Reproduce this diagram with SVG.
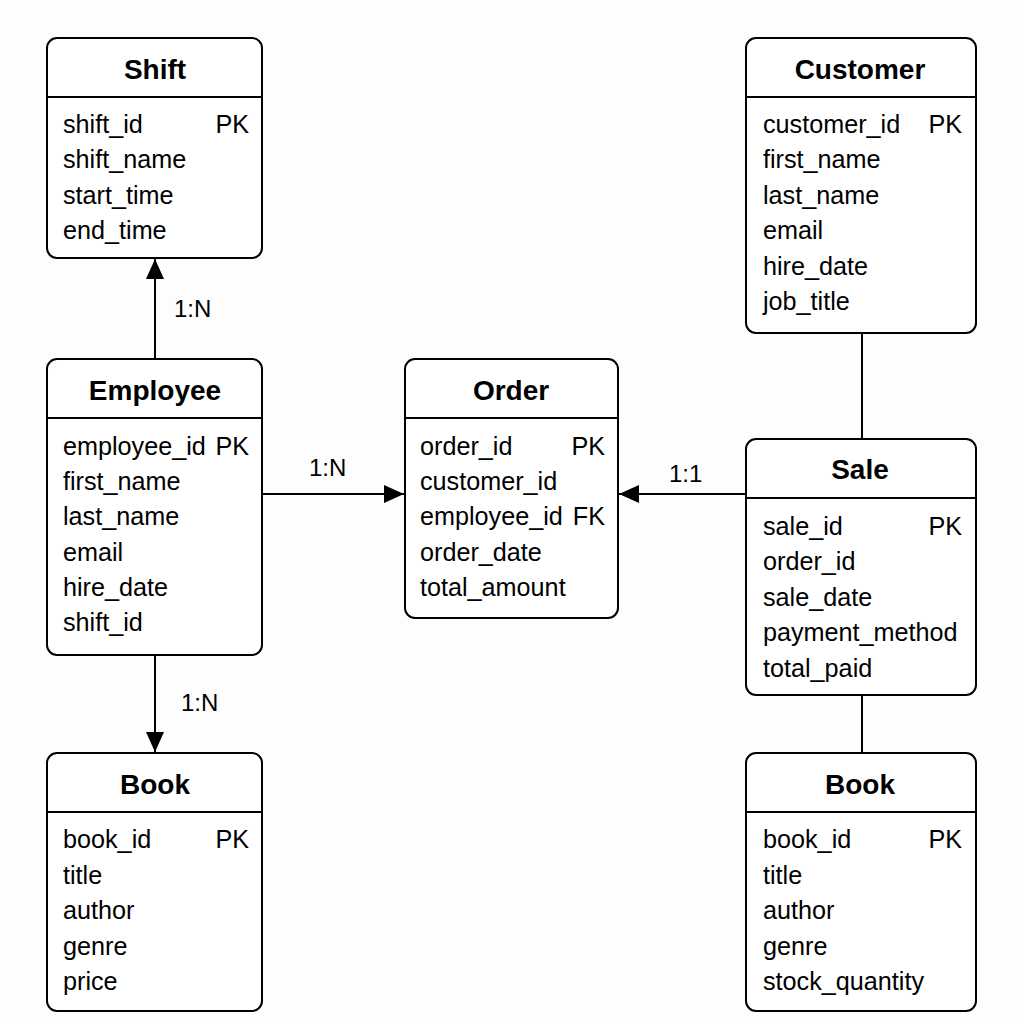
<svg xmlns="http://www.w3.org/2000/svg" width="1024" height="1024" viewBox="0 0 1024 1024">
<style>
.box{fill:#fff;stroke:#000;stroke-width:2}
.sep{stroke:#000;stroke-width:2}
.title{font-family:"Liberation Sans",Arial,sans-serif;font-size:28px;font-weight:bold;fill:#000;text-anchor:middle}
.row{font-family:"Liberation Sans",Arial,sans-serif;font-size:25.2px;fill:#000}
.key{font-family:"Liberation Sans",Arial,sans-serif;font-size:25.2px;fill:#000;text-anchor:end}
.lbl{font-family:"Liberation Sans",Arial,sans-serif;font-size:24px;fill:#000}
.con{stroke:#000;stroke-width:2;fill:none}
</style>
<defs>
<marker id="arr" viewBox="0 0 20 18" refX="20" refY="9" markerWidth="20" markerHeight="18" markerUnits="userSpaceOnUse" orient="auto">
<path d="M0,0 L20,9 L0,18 Z" fill="#000"/>
</marker>
</defs>
<rect width="1024" height="1024" fill="#fdfdfd"/>
<g id="connectors">
<line class="con" x1="155" y1="359" x2="155" y2="259" marker-end="url(#arr)"/>
<text class="lbl" x="174" y="317">1:N</text>
<line class="con" x1="262" y1="494" x2="404" y2="494" marker-end="url(#arr)"/>
<text class="lbl" x="309" y="476">1:N</text>
<line class="con" x1="746" y1="494" x2="619" y2="494" marker-end="url(#arr)"/>
<text class="lbl" x="669" y="482">1:1</text>
<line class="con" x1="155" y1="655" x2="155" y2="752" marker-end="url(#arr)"/>
<text class="lbl" x="181" y="711">1:N</text>
<line class="con" x1="862" y1="333" x2="862" y2="439"/>
<line class="con" x1="862" y1="695" x2="862" y2="753"/>
</g>
<g id="shift">
<rect class="box" x="47" y="38" width="215" height="220" rx="10"/>
<line class="sep" x1="47" y1="97" x2="262" y2="97"/>
<text class="title" x="155" y="79">Shift</text>
<text class="row" x="63" y="133">shift_id</text><text class="key" x="249" y="133">PK</text>
<text class="row" x="63" y="168">shift_name</text>
<text class="row" x="63" y="204">start_time</text>
<text class="row" x="63" y="239">end_time</text>
</g>
<g id="employee">
<rect class="box" x="47" y="359" width="215" height="296" rx="10"/>
<line class="sep" x1="47" y1="418" x2="262" y2="418"/>
<text class="title" x="155" y="400">Employee</text>
<text class="row" x="63" y="455">employee_id</text><text class="key" x="249" y="455">PK</text>
<text class="row" x="63" y="490">first_name</text>
<text class="row" x="63" y="525">last_name</text>
<text class="row" x="63" y="561">email</text>
<text class="row" x="63" y="596">hire_date</text>
<text class="row" x="63" y="631">shift_id</text>
</g>
<g id="order">
<rect class="box" x="405" y="359" width="213" height="259" rx="10"/>
<line class="sep" x1="405" y1="418" x2="618" y2="418"/>
<text class="title" x="511" y="400">Order</text>
<text class="row" x="420" y="455">order_id</text><text class="key" x="605" y="455">PK</text>
<text class="row" x="420" y="490">customer_id</text>
<text class="row" x="420" y="525">employee_id</text><text class="key" x="605" y="525">FK</text>
<text class="row" x="420" y="561">order_date</text>
<text class="row" x="420" y="596">total_amount</text>
</g>
<g id="customer">
<rect class="box" x="746" y="38" width="230" height="295" rx="10"/>
<line class="sep" x1="746" y1="97" x2="976" y2="97"/>
<text class="title" x="860" y="79">Customer</text>
<text class="row" x="763" y="133">customer_id</text><text class="key" x="962" y="133">PK</text>
<text class="row" x="763" y="168">first_name</text>
<text class="row" x="763" y="204">last_name</text>
<text class="row" x="763" y="239">email</text>
<text class="row" x="763" y="275">hire_date</text>
<text class="row" x="763" y="310">job_title</text>
</g>
<g id="sale">
<rect class="box" x="746" y="439" width="230" height="256" rx="10"/>
<line class="sep" x1="746" y1="498" x2="976" y2="498"/>
<text class="title" x="860" y="479">Sale</text>
<text class="row" x="763" y="535">sale_id</text><text class="key" x="962" y="535">PK</text>
<text class="row" x="763" y="570">order_id</text>
<text class="row" x="763" y="606">sale_date</text>
<text class="row" x="763" y="641">payment_method</text>
<text class="row" x="763" y="677">total_paid</text>
</g>
<g id="book-left">
<rect class="box" x="47" y="753" width="215" height="258" rx="10"/>
<line class="sep" x1="47" y1="812" x2="262" y2="812"/>
<text class="title" x="155" y="794">Book</text>
<text class="row" x="63" y="848">book_id</text><text class="key" x="249" y="848">PK</text>
<text class="row" x="63" y="884">title</text>
<text class="row" x="63" y="919">author</text>
<text class="row" x="63" y="955">genre</text>
<text class="row" x="63" y="990">price</text>
</g>
<g id="book-right">
<rect class="box" x="746" y="753" width="230" height="258" rx="10"/>
<line class="sep" x1="746" y1="812" x2="976" y2="812"/>
<text class="title" x="860" y="794">Book</text>
<text class="row" x="763" y="848">book_id</text><text class="key" x="962" y="848">PK</text>
<text class="row" x="763" y="884">title</text>
<text class="row" x="763" y="919">author</text>
<text class="row" x="763" y="955">genre</text>
<text class="row" x="763" y="990">stock_quantity</text>
</g>
</svg>
